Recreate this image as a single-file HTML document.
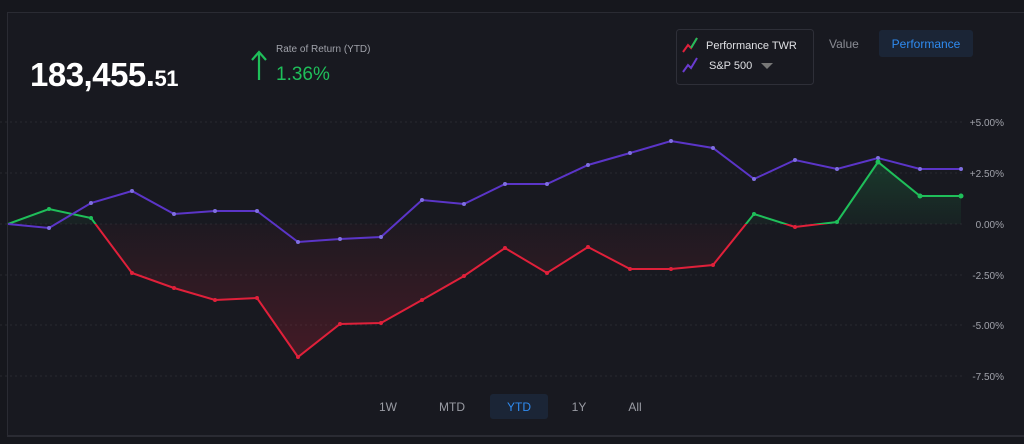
<!DOCTYPE html>
<html><head><meta charset="utf-8"><style>
body{margin:0;background:#16171d;width:1024px;height:444px;overflow:hidden;font-family:"Liberation Sans",sans-serif;}
.panel{position:absolute;left:7px;top:12px;width:1030px;height:422px;background:#181920;border-top:1px solid #2a2b33;border-left:1px solid #2a2b33;border-bottom:2px solid #2a2b33;}
.t{position:absolute;white-space:nowrap}
</style></head><body>
<div class="panel"></div>
<div class="t" style="left:30px;top:56px;font-size:33px;color:#fff;font-weight:bold;letter-spacing:-0.5px">183,455.<span style="font-size:22px">51</span></div>
<div class="t" style="left:276px;top:44px;font-size:10px;color:#a0a2aa">Rate of Return (YTD)</div>
<div class="t" style="left:276px;top:64px;font-size:19px;color:#1fbf5a">1.36%</div>
<svg style="position:absolute;left:0;top:0" width="1024" height="444">
<path d="M259 80 V52 M252 60 L259 52 L266 60" stroke="#1fbf5a" stroke-width="2.2" fill="none"/>
<rect x="676.5" y="29.5" width="137" height="55" rx="3" fill="#181920" stroke="#2e2f38"/>
<polyline points="683,52 688,45 691,48 697,38" stroke="#e0203a" stroke-width="2" fill="none"/>
<polyline points="691,48 697,38" stroke="#1fbf5a" stroke-width="2" fill="none"/>
<polyline points="683,72 688,65 691,68 697,58" stroke="#6a3bd0" stroke-width="2" fill="none"/>
<path d="M761 63 L773 63 L767 69Z" fill="#777"/>
<rect x="879" y="30" width="94" height="27" rx="3" fill="#1b2536"/>
<g stroke="#282930" stroke-dasharray="2,3">
<line x1="0" x2="962" y1="122" y2="122"/><line x1="0" x2="962" y1="173" y2="173"/>
<line x1="0" x2="962" y1="224" y2="224"/><line x1="0" x2="962" y1="275" y2="275"/>
<line x1="0" x2="962" y1="325" y2="325"/><line x1="0" x2="962" y1="376" y2="376"/>
</g>
<defs>
<clipPath id="up"><rect x="0" y="0" width="1024" height="224"/></clipPath>
<clipPath id="dn"><rect x="0" y="224" width="1024" height="220"/></clipPath>
<linearGradient id="rg" x1="0" y1="224" x2="0" y2="360" gradientUnits="userSpaceOnUse"><stop offset="0" stop-color="#e0203a" stop-opacity="0.03"/><stop offset="1" stop-color="#e0203a" stop-opacity="0.22"/></linearGradient>
<linearGradient id="gg" x1="0" y1="224" x2="0" y2="160" gradientUnits="userSpaceOnUse"><stop offset="0" stop-color="#1fbf5a" stop-opacity="0.05"/><stop offset="1" stop-color="#1fbf5a" stop-opacity="0.2"/></linearGradient>
</defs>
<g id="perf">
<path clip-path="url(#dn)" fill="url(#rg)" d="M8,224 L49,209 L91,218 L132,273 L174,288 L215,300 L257,298 L298,357 L340,324 L381,323 L422,300 L464,276 L505,248 L547,273 L588,247 L630,269 L671,269 L713,265 L754,214 L795,227 L837,222 L878,162 L920,196 L961,196 L961,224 Z"/>
<path clip-path="url(#up)" fill="url(#gg)" d="M8,224 L49,209 L91,218 L132,273 L174,288 L215,300 L257,298 L298,357 L340,324 L381,323 L422,300 L464,276 L505,248 L547,273 L588,247 L630,269 L671,269 L713,265 L754,214 L795,227 L837,222 L878,162 L920,196 L961,196 L961,224 Z"/>
<polyline clip-path="url(#dn)" fill="none" stroke="#e0203a" stroke-width="2" points="8,224 49,209 91,218 132,273 174,288 215,300 257,298 298,357 340,324 381,323 422,300 464,276 505,248 547,273 588,247 630,269 671,269 713,265 754,214 795,227 837,222 878,162 920,196 961,196"/>
<polyline clip-path="url(#up)" fill="none" stroke="#1fbf5a" stroke-width="2" points="8,224 49,209 91,218 132,273 174,288 215,300 257,298 298,357 340,324 381,323 422,300 464,276 505,248 547,273 588,247 630,269 671,269 713,265 754,214 795,227 837,222 878,162 920,196 961,196"/>
</g>
<polyline fill="none" stroke="#5b35c8" stroke-width="2" points="8,224 49,228 91,203 132,191 174,214 215,211 257,211 298,242 340,239 381,237 422,200 464,204 505,184 547,184 588,165 630,153 671,141 713,148 754,179 795,160 837,169 878,158 920,169 961,169"/>
<g fill="#7f6fe0">
<circle cx="49" cy="228" r="2"/><circle cx="91" cy="203" r="2"/><circle cx="132" cy="191" r="2"/><circle cx="174" cy="214" r="2"/><circle cx="215" cy="211" r="2"/><circle cx="257" cy="211" r="2"/><circle cx="298" cy="242" r="2"/><circle cx="340" cy="239" r="2"/><circle cx="381" cy="237" r="2"/><circle cx="422" cy="200" r="2"/><circle cx="464" cy="204" r="2"/><circle cx="505" cy="184" r="2"/><circle cx="547" cy="184" r="2"/><circle cx="588" cy="165" r="2"/><circle cx="630" cy="153" r="2"/><circle cx="671" cy="141" r="2"/><circle cx="713" cy="148" r="2"/><circle cx="754" cy="179" r="2"/><circle cx="795" cy="160" r="2"/><circle cx="837" cy="169" r="2"/><circle cx="878" cy="158" r="2"/><circle cx="920" cy="169" r="2"/><circle cx="961" cy="169" r="2"/>
</g>
<g fill="#e0203a">
<circle cx="132" cy="273" r="2"/><circle cx="174" cy="288" r="2"/><circle cx="215" cy="300" r="2"/><circle cx="257" cy="298" r="2"/><circle cx="298" cy="357" r="2"/><circle cx="340" cy="324" r="2"/><circle cx="381" cy="323" r="2"/><circle cx="422" cy="300" r="2"/><circle cx="464" cy="276" r="2"/><circle cx="505" cy="248" r="2"/><circle cx="547" cy="273" r="2"/><circle cx="588" cy="247" r="2"/><circle cx="630" cy="269" r="2"/><circle cx="671" cy="269" r="2"/><circle cx="713" cy="265" r="2"/><circle cx="795" cy="227" r="2"/>
</g>
<g fill="#1fbf5a">
<circle cx="49" cy="209" r="2"/><circle cx="91" cy="218" r="2"/><circle cx="754" cy="214" r="2"/><circle cx="837" cy="222" r="2"/><circle cx="878" cy="162" r="2.5"/><circle cx="920" cy="196" r="2.5"/><circle cx="961" cy="196" r="2.5"/>
</g>
<rect x="490" y="394" width="58" height="25" rx="3" fill="#1b2536"/>
<g font-family="Liberation Sans" font-size="10" fill="#a0a2aa" text-anchor="end">
<text x="1004" y="126">+5.00%</text><text x="1004" y="177">+2.50%</text><text x="1004" y="228">0.00%</text>
<text x="1004" y="279">-2.50%</text><text x="1004" y="329">-5.00%</text><text x="1004" y="380">-7.50%</text>
</g>
<g font-family="Liberation Sans" font-size="11" fill="#dfe0e4">
<text x="706" y="49">Performance TWR</text><text x="709" y="69">S&amp;P 500</text>
</g>
<text x="829" y="48" font-family="Liberation Sans" font-size="12" fill="#8a8c94">Value</text>
<text x="926" y="48" font-family="Liberation Sans" font-size="12" fill="#2f8bf0" text-anchor="middle">Performance</text>
<g font-family="Liberation Sans" font-size="12" fill="#9a9ca4" text-anchor="middle">
<text x="388" y="411">1W</text><text x="452" y="411">MTD</text><text x="519" y="411" fill="#2f8bf0">YTD</text><text x="579" y="411">1Y</text><text x="635" y="411">All</text>
</g>
</svg>
</body></html>
